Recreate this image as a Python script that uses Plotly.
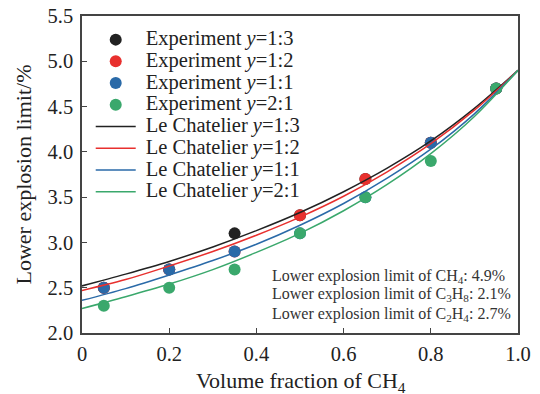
import plotly.graph_objects as go

# Experimental data
x_exp = [0.05, 0.2, 0.35, 0.5, 0.65, 0.8, 0.95]
exp_13 = [2.5, 2.7, 3.1, 3.3, 3.7, 4.1, 4.7]
exp_12 = [2.5, 2.7, 2.9, 3.3, 3.7, 4.1, 4.7]
exp_11 = [2.5, 2.7, 2.9, 3.1, 3.5, 4.1, 4.7]
exp_21 = [2.3, 2.5, 2.7, 3.1, 3.5, 3.9, 4.7]

# Le Chatelier curves
x_lc = [0.0, 0.1, 0.2, 0.3, 0.4, 0.5, 0.6, 0.7, 0.8, 0.9, 1.0]
lc_13 = [2.52, 2.65, 2.79, 2.95, 3.13, 3.33, 3.56, 3.82, 4.12, 4.48, 4.9]
lc_12 = [2.47, 2.59, 2.74, 2.90, 3.08, 3.28, 3.51, 3.78, 4.09, 4.46, 4.9]
lc_11 = [2.36, 2.49, 2.64, 2.80, 2.98, 3.19, 3.43, 3.71, 4.03, 4.42, 4.9]
lc_21 = [2.27, 2.40, 2.54, 2.70, 2.89, 3.10, 3.35, 3.64, 3.98, 4.39, 4.9]

labels = ["y=1:3", "y=1:2", "y=1:1", "y=2:1"]
colors = ["#222222", "#e8302e", "#2a6aa8", "#3aa86c"]
exp_sets = [exp_13, exp_12, exp_11, exp_21]
lc_sets = [lc_13, lc_12, lc_11, lc_21]

note_lines = ["Lower explosion limit of CH<sub>4</sub>: 4.9%",
              "Lower explosion limit of C<sub>3</sub>H<sub>8</sub>: 2.1%",
              "Lower explosion limit of C<sub>2</sub>H<sub>4</sub>: 2.7%"]

def lab(prefix, s):
    a, b = s.split("=")
    return f'<span style="font-size:20.5px">&nbsp;{prefix} <i>{a}</i>={b}</span>'

fig = go.Figure()
for ys, c, l in zip(exp_sets, colors, labels):
    fig.add_trace(go.Scatter(x=x_exp, y=ys, mode="markers", name=lab("Experiment", l),
                             marker=dict(color=c, size=12, line=dict(width=0))))
for ys, c, l in zip(lc_sets, colors, labels):
    fig.add_trace(go.Scatter(x=x_lc, y=ys, mode="lines", name=lab("Le Chatelier", l),
                             line=dict(color=c, width=1.5, shape="spline")))

font_fam = "Liberation Serif, Times New Roman, serif"
axis_common = dict(showgrid=False, zeroline=False, showline=True, linecolor="#444",
                   linewidth=1.5, mirror=True, ticks="inside", ticklen=5, tickcolor="#444",
                   tickwidth=1.2, automargin=False,
                   tickfont=dict(size=20.5, family=font_fam, color="#222"))
fig.update_layout(
    width=540, height=394,
    margin=dict(l=82, r=22, t=16, b=61),
    plot_bgcolor="white", paper_bgcolor="white",
    font=dict(family=font_fam, size=19, color="#222"),
    showlegend=True,
    legend=dict(x=0.02, y=0.9755, xanchor="left", yanchor="top", bgcolor="rgba(0,0,0,0)",
                font=dict(size=14.4, family=font_fam), tracegroupgap=0, itemwidth=40),
    xaxis=dict(range=[0, 1], tickvals=[0, 0.2, 0.4, 0.6, 0.8, 1.0],
               ticktext=["0", "0.2", "0.4", "0.6", "0.8", "1.0"],
               ticklabelstandoff=2, **axis_common),
    yaxis=dict(range=[2.0, 5.5], tickvals=[2.0, 2.5, 3.0, 3.5, 4.0, 4.5, 5.0, 5.5],
               ticktext=["2.0", "2.5", "3.0", "3.5", "4.0", "4.5", "5.0", "5.5"],
               ticklabelstandoff=3, **axis_common),
)
# axis titles
fig.add_annotation(x=0.502, y=-0.155, xref="paper", yref="paper", xanchor="center",
                   yanchor="middle", showarrow=False, text="Volume fraction of CH<sub>4</sub>",
                   font=dict(family=font_fam, size=22, color="#222"))
fig.add_annotation(x=-0.1353, y=0.5, xref="paper", yref="paper", xanchor="center",
                   yanchor="middle", showarrow=False, textangle=-90,
                   text="Lower explosion limit/%",
                   font=dict(family=font_fam, size=22, color="#222"))
# notes
for t, yp in zip(note_lines, [0.1798, 0.1221, 0.059]):
    fig.add_annotation(x=0.432, y=yp, xref="paper", yref="paper", xanchor="left",
                       yanchor="middle", showarrow=False, text=t,
                       font=dict(family=font_fam, size=16, color="#333"))
fig.write_html("out.html")
